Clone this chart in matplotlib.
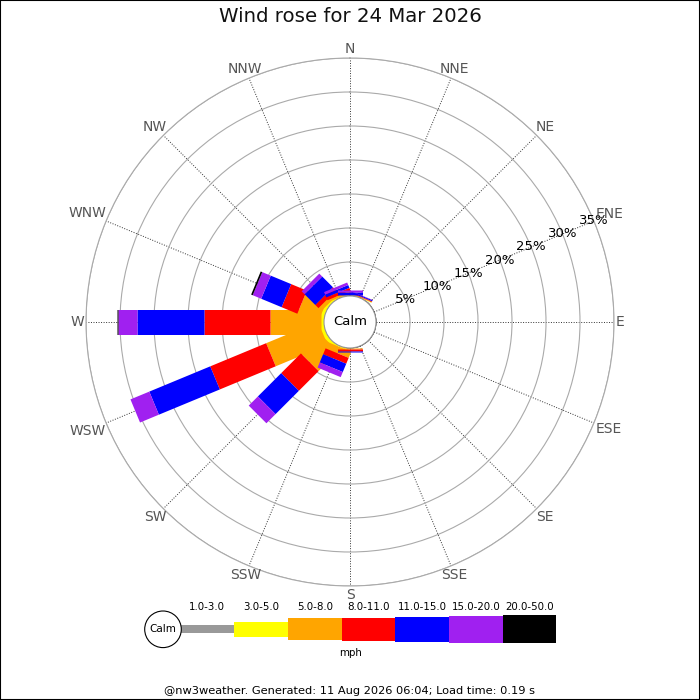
import numpy as np
import matplotlib
matplotlib.use('Agg')
import matplotlib.pyplot as plt
from matplotlib.patches import Circle, Rectangle
from matplotlib.transforms import IdentityTransform

# ---------------- data ----------------
directions = ['N', 'NNE', 'NE', 'ENE', 'E', 'ESE', 'SE', 'SSE',
              'S', 'SSW', 'SW', 'WSW', 'W', 'WNW', 'NW', 'NNW']
speed_bins = ['1.0-3.0', '3.0-5.0', '5.0-8.0', '8.0-11.0',
              '11.0-15.0', '15.0-20.0', '20.0-50.0']
units = 'mph'
title = 'Wind rose for 24 Mar 2026'
footer = '@nw3weather. Generated: 11 Aug 2026 06:04; Load time: 0.19 s'
ring_values = [5, 10, 15, 20, 25, 30, 35]

# percentage of time per direction, for each speed bin
#            N     NNE   NE ENE E ESE SE SSE S     SSW   SW    WSW   W     WNW   NW    NNW
freq_1_3   = [0.00, 0.00, 0, 0, 0, 0, 0, 0, 0.00, 0.00, 0.00, 0.00, 0.00, 0.00, 0.00, 0.00]
freq_3_5   = [0.05, 0.05, 0, 0, 0, 0, 0, 0, 0.05, 0.15, 0.50, 0.50, 0.50, 0.50, 0.30, 0.10]
freq_5_8   = [0.05, 0.10, 0, 0, 0, 0, 0, 0, 0.15, 0.98, 4.05, 8.26, 7.44, 3.30, 0.60, 0.30]
freq_8_11  = [0.10, 0.10, 0, 0, 0, 0, 0, 0, 0.25, 0.93, 4.10, 8.90, 9.70, 2.50, 0.65, 0.45]
freq_11_15 = [0.40, 0.15, 0, 0, 0, 0, 0, 0, 0.20, 1.32, 4.85, 9.70, 9.85, 3.25, 2.25, 0.45]
freq_15_20 = [0.30, 0.05, 0, 0, 0, 0, 0, 0, 0.00, 0.81, 1.90, 3.00, 2.80, 1.35, 0.60, 0.40]
freq_20_50 = [0.00, 0.00, 0, 0, 0, 0, 0, 0, 0.00, 0.00, 0.00, 0.00, 0.20, 0.25, 0.00, 0.00]

bin_colors = ['#999999', '#ffff00', '#ffa500', '#ff0000', '#0000ff', '#a020f0', '#000000']

freqs = np.array([freq_1_3, freq_3_5, freq_5_8, freq_8_11,
                  freq_11_15, freq_15_20, freq_20_50], dtype=float)

# ---------------- layout ----------------
W_PX = 700
fig = plt.figure(figsize=(7, 7), dpi=100)
fig.patch.set_facecolor('white')

R_OUT = 264.0     # px radius of outer ring
R_CALM = 26.0     # px radius of calm circle
CX, CY = 350.0, 322.0  # centre (px, from top)
rmax = ring_values[-1]
rorigin = -R_CALM / (R_OUT - R_CALM) * rmax

ax = fig.add_axes([(CX - R_OUT) / W_PX, (W_PX - CY - R_OUT) / W_PX,
                   2 * R_OUT / W_PX, 2 * R_OUT / W_PX], projection='polar')
ax.set_theta_zero_location('N')
ax.set_theta_direction(-1)
ax.set_ylim(0, rmax)
ax.set_rorigin(rorigin)
ax.spines['polar'].set_color('#aaaaaa')
ax.spines['polar'].set_linewidth(0.8)
ax.spines['inner'].set_visible(False)
ax.set_facecolor('white')

angles = np.deg2rad(np.arange(len(directions)) * 22.5)
ax.set_xticks(angles)
ax.set_xticklabels([])
ax.set_yticks(ring_values)
ax.set_yticklabels([])
ax.tick_params(length=0)
ax.xaxis.grid(True, color='#333333', linestyle=(0, (1, 1.6)), linewidth=0.7)
ax.yaxis.grid(True, color='#aaaaaa', linestyle='-', linewidth=0.8)
ax.set_axisbelow(True)

# stacked bars: thick butt-capped radial lines (constant width)
cum = np.zeros(len(directions))
for b in range(len(speed_bins)):
    for i, a in enumerate(angles):
        v = freqs[b, i]
        if v > 0:
            ax.plot([a, a], [cum[i], cum[i] + v], color=bin_colors[b],
                    linewidth=18, solid_capstyle='butt', zorder=3, clip_on=False)
    cum += freqs[b]

# calm circle
ax.add_patch(Circle((0.5, 0.5), R_CALM / (2 * R_OUT), transform=ax.transAxes,
                    facecolor='white', edgecolor='#999999', linewidth=0.8,
                    zorder=6, clip_on=False))
ax.text(0.5, 0.5, 'Calm', transform=ax.transAxes, ha='center', va='center',
        fontsize=9.5, color='black', zorder=7)

# ring labels along ENE
for rv in ring_values:
    ax.text(np.deg2rad(67.5), rv, f'{rv}%', ha='center', va='center',
            fontsize=9.5, color='black', zorder=4)

# compass labels
fig.canvas.draw()
renderer = fig.canvas.get_renderer()
cx, cy = ax.transAxes.transform((0.5, 0.5))
R_EDGE = 266.0
for i, lab in enumerate(directions):
    a = angles[i]
    t = fig.text(0, 0, lab, ha='center', va='center', fontsize=10,
                 color='#555555', transform=IdentityTransform())
    bb = t.get_window_extent(renderer)
    hw, hh = bb.width / 2, bb.height / 2
    s, c = np.sin(a), np.cos(a)
    dx = hw / abs(s) if abs(s) > 1e-6 else np.inf
    dy = hh / abs(c) if abs(c) > 1e-6 else np.inf
    r = R_EDGE + min(dx, dy)
    t.set_position((cx + r * s, cy + r * c))

# title
fig.text(0.5, 1 - 17 / W_PX, title, ha='center', va='center', fontsize=14.2, color='#111111')

# ---------------- legend ----------------
BW = 53.7                     # px per legend bar
LX0, LYC = 180.5, 629.3       # left edge of first bar, vertical centre (px from top)
lx_left, lx_right, ly_top, ly_bot = 140, 560, 598, 662
lax = fig.add_axes([lx_left / W_PX, (W_PX - ly_bot) / W_PX,
                    (lx_right - lx_left) / W_PX, (ly_bot - ly_top) / W_PX])
lax.set_xlim((lx_left - LX0) / BW, (lx_right - LX0) / BW)
lax.set_ylim((LYC - ly_bot) / BW, (LYC - ly_top) / BW)
lax.axis('off')
leg_heights = np.array([8.3, 15, 21.7, 23, 25, 27, 28.3]) / BW
xs = np.arange(len(speed_bins))
lax.bar(xs, leg_heights, bottom=-leg_heights / 2, width=1.0, align='edge',
        color=bin_colors, linewidth=0)
for x, lab in zip(xs, speed_bins):
    lax.text(x + 0.5, (LYC - 607) / BW, lab, ha='center', va='center', fontsize=7.4)
lax.text(len(speed_bins) / 2 - 0.33, (LYC - 653) / BW, units, ha='center', va='center', fontsize=7.4)
lax.add_patch(Circle((-(LX0 - 163) / BW, 0), 18.3 / BW, facecolor='white',
                     edgecolor='black', linewidth=0.8, clip_on=False))
lax.set_aspect('equal', adjustable='datalim')
lax.text(-(LX0 - 163) / BW, 0, 'Calm', ha='center', va='center', fontsize=7.5)

# footer
fig.text(0.5, 1 - 691.5 / W_PX, footer, ha='center', va='center', fontsize=8.2, color='black')

# frame
fig.patches.append(Rectangle((0, 0), 1, 1, transform=fig.transFigure, fill=False,
                             edgecolor='black', linewidth=1.5, zorder=10))

fig.savefig('out.png', dpi=100, facecolor='white')
